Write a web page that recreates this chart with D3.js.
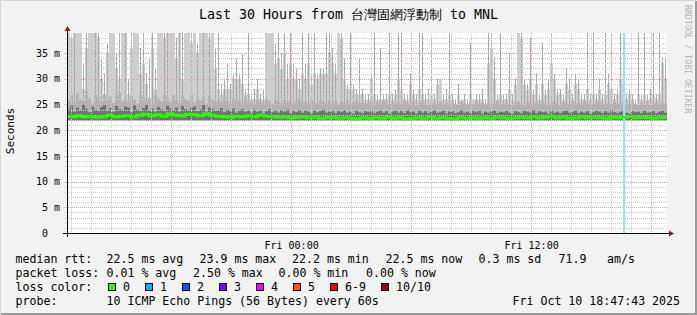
<!DOCTYPE html>
<html>
<head>
<meta charset="utf-8">
<script src="https://cdn.jsdelivr.net/npm/d3@7"></script>
<style>
body { margin: 0; background: #f2f2f2; }
svg { display: block; }
text { font-family: "DejaVu Sans Mono", monospace; white-space: pre; fill: #000; }
</style>
</head>
<body>
<div id="chart"></div>
<script>
// ---- data (ms) ----
var tStart = new Date(2025, 9, 9, 12, 47, 43)
var tEnd = new Date(2025, 9, 10, 18, 47, 43)

// 200 columns, 9 minutes each: top of the light smoke
var smokeHigh = [40,38,39,40,40,28,36,40,40,40,38,30,27,35,40,40,32,30,40,39,27,36,40,40,31,33,29,26,36,28,
  40,40,38,40,40,40,34,40,30,40,40,37,40,35,40,40,40,38,40,32,28,27,28,28,28,30,30,30,29,27,
  27,26,26,28,26,26,40,40,40,33,34,32,35,30,33,30,30,28,31,30,33,29,31,30,31,31,31,35,33,31,
  40,38,30,28,28,28,27,27,27,26,26,30,27,26,26,26,26,27,26,27,30,28,26,26,29,27,26,28,27,26,
  26,27,26,29,30,26,26,27,26,25,27,25,26,25,27,26,26,26,26,25,33,36,30,26,27,26,26,28,26,29,
  40,38,29,28,30,27,29,26,29,27,28,33,30,27,27,26,29,28,26,29,28,26,26,28,26,27,26,28,26,27,
  29,28,26,27,30,29,26,27,26,25,27,26,27,26,26,27,26,27,33,30]
// same columns: top of the thin darker spikes
var smokeMax = [40,38,40,40,40,33,40,40,40,40,40,34,31,37,40,40,35,40,40,40,30,40,40,40,36,40,31,34,40,32,
  40,40,40,40,40,40,38,40,40,40,40,40,40,37,40,40,40,40,40,36,40,29,30,33,29,31,34,31,35,28,
  40,27,28,30,27,28,40,40,40,37,40,35,40,33,40,33,32,30,40,33,40,31,40,31,32,32,40,40,36,33,
  40,40,34,29,40,29,28,34,28,27,27,31,40,27,36,27,27,39,27,28,40,40,27,27,31,28,27,40,40,27,
  28,38,27,30,30,27,28,40,27,26,29,26,27,26,37,26,27,27,28,26,40,40,34,27,40,27,27,35,27,30,
  40,40,30,29,38,28,31,27,37,28,30,40,31,28,28,27,32,30,27,31,30,27,27,40,27,40,27,30,27,40,
  31,40,27,28,40,30,27,28,27,26,40,27,40,27,28,40,27,40,34,34]
// same columns: mid grey smoke
var smokeMid = [25.8,26.9,25.4,27.2,26.1,25.6,27.5,26.3,25.2,26.8,26.4,25.5,27.0,25.9,26.6,25.3,26.9,27.3,25.7,26.2,
  25.4,26.7,26.0,25.2,27.1,26.5,25.8,26.3,25.1,26.9,26.2,25.6,27.0,26.4,25.5,26.8,25.9,25.3,26.6,26.1,
  25.7,26.9,25.4,26.2,25.8,26.5,25.2,26.7,26.0,25.5,25.9,25.3,26.4,25.7,25.1,26.2,25.6,25.9,25.2,26.5,
  25.4,25.8,25.1,26.0,25.5,25.2,26.3,25.7,25.0,25.9,25.6,25.2,26.1,25.4,25.8,25.0,25.7,26.2,25.3,25.6,
  25.1,25.9,25.4,25.0,26.0,25.5,25.2,25.8,25.3,25.7,25.0,25.6,25.3,25.9,25.1,25.4,25.8,25.2,25.5,25.0,
  25.3,25.7,24.9,25.5,25.1,25.8,25.2,24.8,25.6,25.0,25.4,24.9,25.7,25.2,25.0,25.5,24.8,25.3,25.9,25.1,
  24.9,25.4,25.2,24.7,25.6,25.0,25.3,24.8,25.5,25.1,24.9,25.7,25.2,24.8,25.4,25.0,25.6,24.9,25.3,25.1,
  25.5,24.8,25.2,25.7,25.0,24.9,25.4,25.1,24.8,25.3,25.6,25.1,24.9,25.5,25.2,24.8,25.4,25.0,25.7,25.1,
  24.9,25.3,25.6,25.0,24.8,25.4,25.2,24.9,25.5,25.1,25.3,24.8,25.6,25.0,25.2,24.9,25.4,25.7,25.1,24.8,
  25.3,25.0,25.5,24.9,25.2,25.6,25.0,24.8,25.4,25.1,24.9,25.3,25.0,25.5,24.8,25.2,25.4,24.9,25.3,25.0]
// same columns: dark smoke near the median
var smokeDark = [24.1,24.8,23.6,24.4,23.9,25.0,24.2,23.5,24.6,24.0,23.7,24.5,24.9,23.8,24.3,23.6,24.7,24.1,23.9,24.6,
  24.4,23.5,24.8,24.0,23.7,24.3,24.9,23.8,24.2,23.6,24.5,24.0,23.7,24.8,24.2,23.9,24.4,23.6,24.7,24.1,
  23.8,24.3,24.6,23.7,24.0,24.9,23.6,24.4,24.1,23.8,23.9,24.3,23.5,24.0,23.7,24.2,23.4,23.9,24.1,23.6,
  23.8,23.4,24.0,23.6,23.9,23.3,23.7,24.1,23.5,23.8,23.4,23.9,23.6,24.0,23.3,23.7,23.5,23.9,23.4,23.8,
  23.6,23.3,23.9,23.5,23.7,24.0,23.4,23.6,23.8,23.3,23.7,23.5,23.9,23.4,23.6,23.2,23.8,23.5,23.3,23.7,
  23.5,23.8,23.3,23.6,23.9,23.4,23.7,23.2,23.6,23.8,23.4,23.7,23.3,23.9,23.5,23.6,23.2,23.8,23.4,23.7,
  23.3,23.6,23.9,23.4,23.5,23.8,23.2,23.6,23.7,23.3,23.5,23.9,23.4,23.6,23.3,23.7,23.5,23.8,23.2,23.6,
  23.4,23.7,23.9,23.3,23.6,23.5,23.8,23.4,23.2,23.7,23.5,23.3,23.8,23.6,23.4,23.9,23.3,23.7,23.5,23.6,
  23.2,23.8,23.4,23.6,23.3,23.7,23.9,23.4,23.5,23.8,23.3,23.6,23.4,23.7,23.2,23.5,23.8,23.6,23.3,23.7,
  23.4,23.9,23.5,23.3,23.6,23.8,23.4,23.2,23.7,23.5,23.6,23.3,23.8,23.4,23.5,23.7,23.3,23.6,23.9,23.4]
// 100 columns, 18 minutes each
var medianRtt = [22.7,22.6,22.8,22.6,22.7,22.5,22.6,22.9,22.6,22.7,22.8,22.6,22.9,23.1,22.8,23.0,22.7,23.2,22.9,22.8,23.1,23.0,22.8,23.2,22.9,
  22.7,22.6,22.5,22.7,22.6,22.8,22.6,22.9,22.7,22.6,22.5,22.6,22.4,22.5,22.6,22.4,22.5,22.3,22.4,22.5,22.3,22.4,22.3,22.2,22.4,
  22.3,22.4,22.3,22.5,22.3,22.4,22.2,22.3,22.4,22.3,22.5,22.3,22.4,22.3,22.2,22.4,22.3,22.4,22.3,22.4,22.3,22.5,22.4,22.3,22.4,
  22.5,22.4,22.6,22.4,22.5,22.7,22.4,22.5,22.3,22.4,22.6,22.4,22.5,22.4,22.3,22.5,22.4,22.5,22.6,22.4,22.5,22.4,22.3,22.4,22.5]
var rttFloor = 21.9
var lossEvents = [{hours: 27.8, pings: 1}]

var yMajor = [0, 5, 10, 15, 20, 25, 30, 35]
var lossColors = ["#26ff00", "#00b8ff", "#0059ff", "#7e00ff", "#ff00ff", "#ff5500", "#ff0000", "#a10000"]
var lossLabels = ["0", "1", "2", "3", "4", "5", "6-9", "10/10"]
var rttRow = ["median rtt:", "22.5 ms avg", "23.9 ms max", "22.2 ms min", "22.5 ms now", "0.3 ms sd", "71.9", "am/s"]
var lossRow = ["packet loss:", "0.01 % avg", "2.50 % max", "0.00 % min", "0.00 % now"]
var probeRow = ["probe:", "10 ICMP Echo Pings (56 Bytes) every 60s", "Fri Oct 10 18:47:43 2025"]

// ---- layout ----
var W = 697, H = 315
var plot = {left: 67, right: 667, top: 33, bottom: 233}
var yMaxMs = 38.9

var svg = d3.select("#chart").append("svg")
    .attr("width", W)
    .attr("height", H)

// frame
svg.append("rect").attr("width", W).attr("height", H).attr("fill", "#f2f2f2")
svg.append("path").attr("d", "M0.5," + (H - 1) + "V0.5H" + (W - 1)).attr("fill", "none").attr("stroke", "#d6d6d6").attr("stroke-width", 1)
svg.append("path").attr("d", "M1," + (H - 1) + "H" + (W - 1) + "V1").attr("fill", "none").attr("stroke", "#9a9a9a").attr("stroke-width", 2)

var x = d3.scaleTime().domain([tStart, tEnd]).range([plot.left, plot.right])
var y = d3.scaleLinear().domain([0, yMaxMs]).range([plot.bottom, plot.top])
var yc = function(v) { return y(Math.min(v, yMaxMs)) }
var minutes = function(m) { return new Date(tStart.getTime() + m * 60000) }

svg.append("rect")
    .attr("x", plot.left).attr("y", plot.top)
    .attr("width", plot.right - plot.left).attr("height", plot.bottom - plot.top)
    .attr("fill", "#ffffff")

var g = svg.append("g")

// smoke bands, one rect per 9 minute column
var band = function(arr, color) {
  g.append("g").selectAll("rect")
    .data(arr)
    .enter()
    .append("rect")
      .attr("x", function(d, i) { return x(minutes(i * 9)) })
      .attr("width", function(d, i) { return x(minutes(i * 9 + 9)) - x(minutes(i * 9)) })
      .attr("y", function(d) { return yc(d) })
      .attr("height", function(d) { return y(rttFloor) - yc(d) })
      .attr("fill", color)
}
band(smokeHigh, "#cecece")

// thin spikes, only where they poke out of the light smoke
g.append("g").selectAll("rect")
  .data(smokeMax.map(function(v, i) { return {v: v, i: i, hi: smokeHigh[i]} })
    .filter(function(d) { return d.v > d.hi || d.i % 4 == 1 }))
  .enter()
  .append("rect")
    .attr("x", function(d) { return Math.round(x(minutes(d.i * 9 + 4))) })
    .attr("width", 1)
    .attr("y", function(d) { return yc(d.v) })
    .attr("height", function(d) { return y(rttFloor) - yc(d.v) })
    .attr("fill", "#aaaaaa")

band(smokeMid, "#b2b2b2")
band(smokeDark, "#737373")

// grid
var hours = x.ticks(d3.timeHour.every(1))
var sixes = hours.filter(function(d) { return d.getHours() % 6 == 0 })
var minorY = d3.range(1, 39).filter(function(v) { return v % 5 != 0 })

g.append("g").selectAll("line")
  .data(hours)
  .enter().append("line")
    .attr("x1", function(d) { return Math.round(x(d)) + 0.5 })
    .attr("x2", function(d) { return Math.round(x(d)) + 0.5 })
    .attr("y1", plot.top).attr("y2", plot.bottom + 2)
    .attr("stroke", "#cdcdcd").attr("stroke-dasharray", "1,1")
g.append("g").selectAll("line")
  .data(minorY)
  .enter().append("line")
    .attr("x1", plot.left - 2).attr("x2", plot.right)
    .attr("y1", function(d) { return Math.round(y(d)) + 0.5 })
    .attr("y2", function(d) { return Math.round(y(d)) + 0.5 })
    .attr("stroke", "#cdcdcd").attr("stroke-dasharray", "1,1")
g.append("g").selectAll("line")
  .data(sixes)
  .enter().append("line")
    .attr("x1", function(d) { return Math.round(x(d)) + 0.5 })
    .attr("x2", function(d) { return Math.round(x(d)) + 0.5 })
    .attr("y1", plot.top).attr("y2", plot.bottom + 3)
    .attr("stroke", "#eaa6a6").attr("stroke-dasharray", "1,1")
g.append("g").selectAll("line")
  .data(yMajor.slice(1))
  .enter().append("line")
    .attr("x1", plot.left - 3).attr("x2", plot.right)
    .attr("y1", function(d) { return Math.round(y(d)) + 0.5 })
    .attr("y2", function(d) { return Math.round(y(d)) + 0.5 })
    .attr("stroke", "#eaa6a6").attr("stroke-dasharray", "1,1")

// loss bar
lossEvents.forEach(function(e) {
  var t0 = minutes(e.hours * 60)
  g.append("rect")
    .attr("x", x(t0)).attr("width", x(minutes(e.hours * 60 + 7)) - x(t0))
    .attr("y", plot.top).attr("height", plot.bottom - plot.top)
    .attr("fill", "#a6dcf2")
})

// median line
var line = d3.line()
  .x(function(d, i) { return x(minutes(i * 1800 / (medianRtt.length - 1))) })
  .y(function(d) { return y(d) })
  .curve(d3.curveStep)
g.append("path")
  .datum(medianRtt)
  .attr("d", line)
  .attr("fill", "none")
  .attr("stroke", "#26ff00")
  .attr("stroke-width", 3)

// axes
var yAxis = svg.append("g")
  .attr("transform", "translate(" + plot.left + ",0)")
  .call(d3.axisLeft(y).tickValues(yMajor).tickSize(0).tickPadding(7)
    .tickFormat(function(d) { return d == 0 ? "0  " : d + " m" }))
yAxis.select(".domain").remove()
yAxis.selectAll("text").style("font-size", "10px").attr("font-family", null)

var xAxis = svg.append("g")
  .attr("transform", "translate(0," + plot.bottom + ")")
  .call(d3.axisBottom(x).ticks(d3.timeHour.every(12)).tickSize(0).tickPadding(9)
    .tickFormat(d3.timeFormat("%a %H:%M")))
xAxis.select(".domain").remove()
xAxis.selectAll("text").style("font-size", "10px").attr("font-family", null)

svg.append("line").attr("x1", plot.left - 4).attr("x2", plot.right + 2)
  .attr("y1", plot.bottom + 0.5).attr("y2", plot.bottom + 0.5).attr("stroke", "#000")
svg.append("line").attr("x1", plot.left + 0.5).attr("x2", plot.left + 0.5)
  .attr("y1", plot.bottom + 4).attr("y2", plot.top - 3).attr("stroke", "#000")
svg.append("path").attr("d", "M" + (plot.right + 2) + "," + (plot.bottom - 2.5) + "l5,3l-5,3z").attr("fill", "#8c1c1c")
svg.append("path").attr("d", "M" + (plot.left - 2.5) + "," + (plot.top - 2) + "l3,-5l3,5z").attr("fill", "#8c1c1c")

// titles
svg.append("text")
  .attr("x", 348.5).attr("y", 19)
  .attr("text-anchor", "middle")
  .style("font-size", "13.3px")
  .text("Last 30 Hours from 台灣固網浮動制 to MNL")
svg.append("text")
  .attr("transform", "translate(14,131) rotate(-90)")
  .attr("text-anchor", "middle")
  .style("font-size", "11px")
  .text("Seconds")
svg.append("text")
  .attr("transform", "translate(685,5) rotate(90)")
  .attr("text-anchor", "start")
  .style("font-size", "8.2px")
  .style("fill", "#b4b4b4")
  .text("RRDTOOL / TOBI OETIKER")

// legend
var legendFont = "11.6px"
var rowY = [262.5, 276.5, 290.5, 304.5]
var addRow = function(items, xs, yy) {
  svg.append("g").selectAll("text")
    .data(items)
    .enter().append("text")
      .attr("x", function(d, i) { return xs[i] })
      .attr("y", yy)
      .style("font-size", legendFont)
      .text(function(d) { return d })
}
addRow(rttRow, [15.5, 106.5, 199.5, 292, 385.5, 478.5, 558.5, 607], rowY[0])
addRow(lossRow, [15.5, 106.5, 193, 278.5, 366], rowY[1])
addRow(["loss color:"], [15.5], rowY[2])
addRow(probeRow, [15.5, 106.5, 512.5], rowY[3])

var boxX = [108.5, 145.5, 182.5, 219.5, 256.5, 293.5, 330.5, 381.5]
var lab = svg.append("g").selectAll("g")
  .data(lossLabels)
  .enter().append("g")
lab.append("rect")
  .attr("x", function(d, i) { return boxX[i] })
  .attr("y", 283.5)
  .attr("width", 7).attr("height", 7)
  .attr("fill", function(d, i) { return lossColors[i] })
  .attr("stroke", "#000").attr("stroke-width", 1)
lab.append("text")
  .attr("x", function(d, i) { return boxX[i] + 14.5 })
  .attr("y", rowY[2])
  .style("font-size", legendFont)
  .text(function(d) { return d })
</script>
</body>
</html>
